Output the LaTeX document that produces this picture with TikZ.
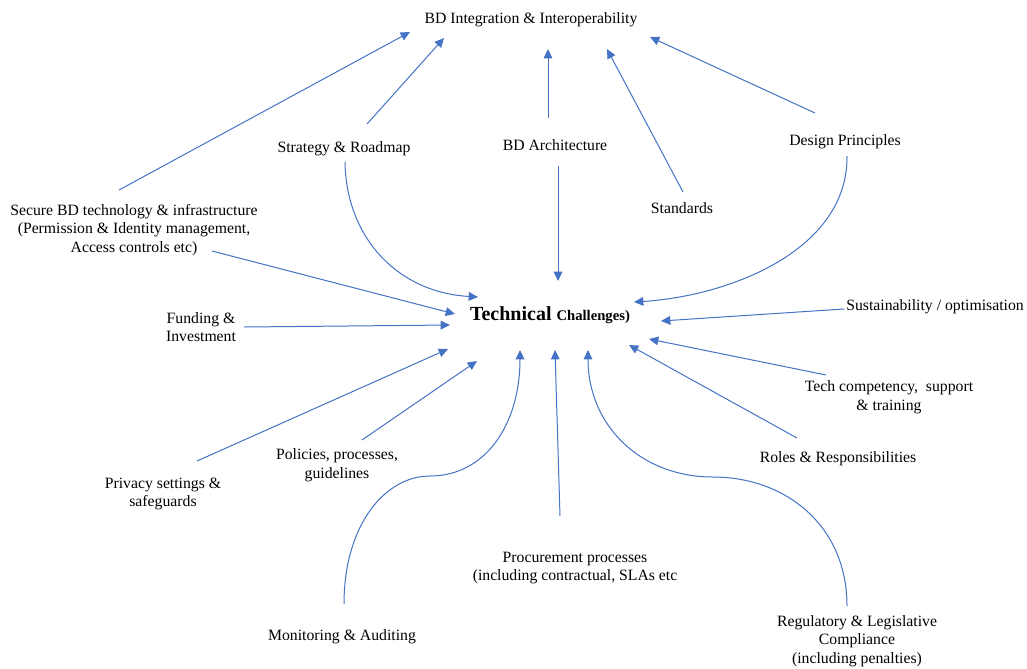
\documentclass[tikz,border=0pt]{standalone}
\usepackage{fontspec}
\setmainfont{Liberation Serif}
\usetikzlibrary{arrows.meta}
\definecolor{arrowblue}{HTML}{4472C4}
\begin{document}
\begin{tikzpicture}[x=0.75pt,y=-0.75pt,
  lbl/.style={inner sep=0pt,align=center,font=\fontsize{11.8}{14}\selectfont,yshift=-1.5pt},
  conn/.style={draw=arrowblue,line width=0.75pt,-{Triangle[length=7pt,width=6.5pt]},fill=none}]
\useasboundingbox (0,0) rectangle (1027,668);
% labels
\node[lbl] (bdi) at (531,18) {BD Integration \& Interoperability};
\node[lbl] (str) at (344,147) {Strategy \& Roadmap};
\node[lbl] (arch) at (555,143) {BD Architecture};
\node[lbl] (des) at (845,140) {Design Principles};
\node[lbl] (std) at (682,206) {Standards};
\node[lbl] (sec) at (134,228) {Secure BD technology \& infrastructure\\(Permission \& Identity management,\\Access controls etc)};
\node[lbl] (fund) at (201,325) {Funding \&\\Investment};
\node[inner sep=0pt] (tc) at (550,315) {\fontsize{15}{18}\selectfont\bfseries Technical {\fontsize{11}{13}\selectfont Challenges)}};
\node[lbl] (sus) at (935,305) {Sustainability / optimisation};
\node[lbl] (comp) at (889,395) {Tech competency,\ \ support\\\& training};
\node[lbl] (roles) at (838,457) {Roles \& Responsibilities};
\node[lbl] (pol) at (337,463) {Policies, processes,\\guidelines};
\node[lbl] (priv) at (163,492) {Privacy settings \&\\safeguards};
\node[lbl] (proc) at (575,566) {Procurement processes\\(including contractual, SLAs\ etc};
\node[lbl] (mon) at (342,635) {Monitoring \& Auditing};
\node[lbl] (reg) at (857,639) {Regulatory \& Legislative\\Compliance\\(including penalties)};
% connector end points
\coordinate (sec-up) at (119,190);   \coordinate (bdi-a) at (410,32);
\coordinate (str-up) at (367,124);   \coordinate (bdi-b) at (444,38);
\coordinate (arch-up) at (548,118);  \coordinate (bdi-c) at (548,49);
\coordinate (std-up) at (683,192);   \coordinate (bdi-d) at (607,49);
\coordinate (des-up) at (815,113);   \coordinate (bdi-e) at (650,37);
\coordinate (str-dn) at (345,162);   \coordinate (tc-a) at (478,297);
\coordinate (arch-dn) at (558,166);  \coordinate (tc-b) at (558,281);
\coordinate (des-dn) at (847,156);   \coordinate (tc-c) at (634,302);
\coordinate (sec-dn) at (212,251);   \coordinate (tc-d) at (455,314);
\coordinate (fund-r) at (244,327);   \coordinate (tc-e) at (450,325);
\coordinate (sus-l) at (844,309);    \coordinate (tc-f) at (661,321);
\coordinate (comp-l) at (826,375);   \coordinate (tc-g) at (649,339);
\coordinate (roles-l) at (797,438);  \coordinate (tc-h) at (629,345);
\coordinate (priv-up) at (197,461);  \coordinate (tc-i) at (448,349);
\coordinate (pol-up) at (362,440);   \coordinate (tc-j) at (477,361);
\coordinate (mon-up) at (344,604);   \coordinate (tc-k) at (520,350);
\coordinate (proc-up) at (560,516);  \coordinate (tc-l) at (555,350);
\coordinate (reg-up) at (847,606);   \coordinate (tc-m) at (588,350);
% connectors to BD Integration
\draw[conn] (sec-up) -- (bdi-a);
\draw[conn] (str-up) -- (bdi-b);
\draw[conn] (arch-up) -- (bdi-c);
\draw[conn] (std-up) -- (bdi-d);
\draw[conn] (des-up) -- (bdi-e);
% connectors to Technical Challenges
\draw[conn] (str-dn) .. controls (346,235) and (395,292) .. (tc-a);
\draw[conn] (arch-dn) -- (tc-b);
\draw[conn] (des-dn) .. controls (848,250) and (730,296) .. (tc-c);
\draw[conn] (sec-dn) -- (tc-d);
\draw[conn] (fund-r) -- (tc-e);
\draw[conn] (sus-l) -- (tc-f);
\draw[conn] (comp-l) -- (tc-g);
\draw[conn] (roles-l) -- (tc-h);
\draw[conn] (priv-up) -- (tc-i);
\draw[conn] (pol-up) -- (tc-j);
\draw[conn] (mon-up) .. controls (344,525) and (385,476) .. (430,476) .. controls (485,476) and (520,425) .. (tc-k);
\draw[conn] (proc-up) -- (tc-l);
\draw[conn] (reg-up) .. controls (847,525) and (785,477) .. (713,477) .. controls (640,477) and (588,425) .. (tc-m);
\end{tikzpicture}
\end{document}
